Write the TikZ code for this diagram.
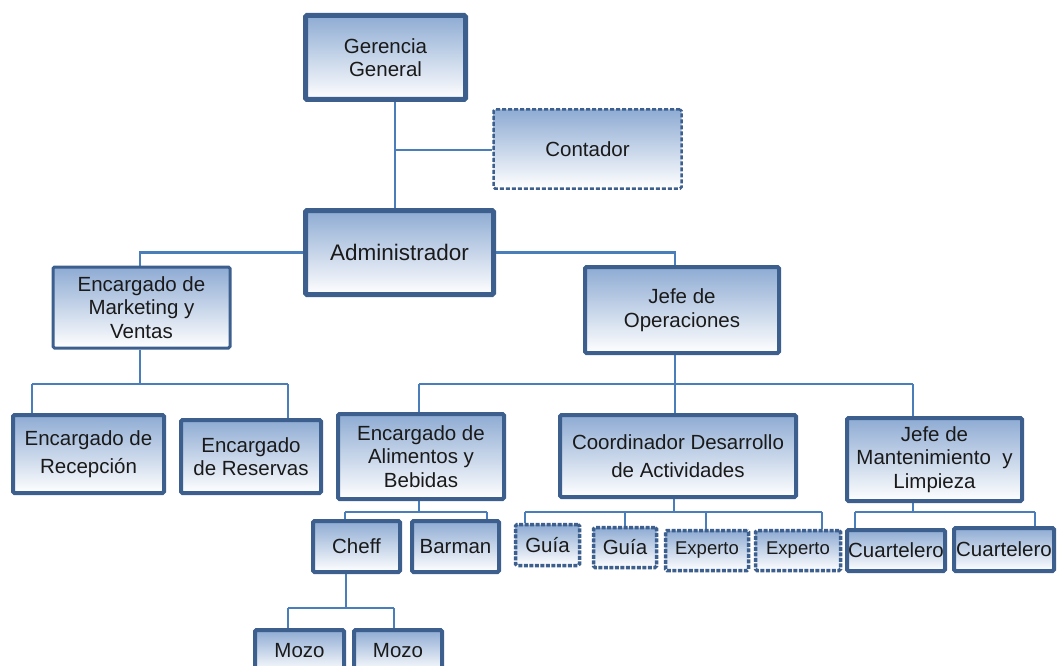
\documentclass[tikz,border=0pt]{standalone}
\usepackage{fontspec}
\setmainfont{Liberation Sans}
\usepackage{xcolor}
\usepackage{tikz}
\usetikzlibrary{shapes,arrows,backgrounds}

\definecolor{boxline}{HTML}{3C5F8E}
\definecolor{boxtop}{HTML}{8EABD3}
\definecolor{linkblue}{HTML}{4A7EBB}
\definecolor{txt}{HTML}{1A1A1A}

\begin{document}
\begin{tikzpicture}[x=1pt, y=-1pt,
  box/.style={draw=boxline, line width=4pt, rounded corners=1.5pt, top color=boxtop, bottom color=white,
    inner sep=0pt, align=center, text=txt, font=\fontsize{20.5}{23.5}\selectfont},
  bigbox/.style={box, line width=5pt},
  thinbox/.style={box, line width=3pt},
  dashbox/.style={box, line width=3.5pt, dash pattern=on 4pt off 1.5pt},
  link/.style={draw=linkblue, line width=2.2pt}]
\useasboundingbox (0,0) rectangle (1057,666);

% top levels
\node[bigbox, minimum width=160pt, minimum height=84pt] (ger) at (385.5,57.5) {Gerencia\\General};
\node[dashbox, line width=2.5pt, dash pattern=on 4pt off 2pt, minimum width=188pt, minimum height=79pt] (cont) at (587.5,149) {Contador};
\node[bigbox, minimum width=188pt, minimum height=84pt, font=\fontsize{22.5}{26}\selectfont] (adm) at (399.5,252.5) {Administrador};
\node[thinbox, minimum width=177pt, minimum height=81pt] (mkt) at (141.5,307.5) {Encargado de\\Marketing y\\Ventas};
\node[box, minimum width=194pt, minimum height=86pt] (jop) at (682,310) {Jefe de\\Operaciones};

% third level
\node[box, minimum width=151pt, minimum height=78pt] (rec) at (88.5,454) {Encargado de\\[4pt]Recepción};
\node[box, minimum width=140pt, minimum height=73pt] (res) at (251,456.5) {Encargado\\de Reservas};
\node[box, minimum width=166pt, minimum height=85pt] (ali) at (421,456.5) {Encargado de\\Alimentos y\\Bebidas};
\node[box, minimum width=236pt, minimum height=82pt] (coo) at (678,456) {Coordinador Desarrollo\\[5pt]de Actividades};
\node[box, minimum width=175pt, minimum height=83pt] (man) at (934.5,459.5) {Jefe de\\Mantenimiento~ y\\Limpieza};

% bottom levels
\node[box, minimum width=87pt, minimum height=51pt] (che) at (356.5,546.5) {Cheff};
\node[box, minimum width=87pt, minimum height=51pt] (bar) at (455.5,546.5) {Barman};
\node[box, minimum width=89pt, minimum height=42pt] (moz1) at (299.5,651) {Mozo};
\node[box, minimum width=88pt, minimum height=42pt] (moz2) at (398,651) {Mozo};
\node[dashbox, minimum width=64pt, minimum height=41pt] (g1) at (547.5,545) {Guía};
\node[dashbox, minimum width=63pt, minimum height=40pt] (g2) at (625,547.5) {Guía};
\node[dashbox, minimum width=83pt, minimum height=40pt, font=\fontsize{18.5}{22}\selectfont] (e1) at (707,550.5) {Experto};
\node[dashbox, minimum width=85pt, minimum height=40pt, font=\fontsize{18.5}{22}\selectfont] (e2) at (798,550.5) {Experto};
\node[box, minimum width=98pt, minimum height=41pt] (cu1) at (896,550.5) {Cuartelero};
\node[box, minimum width=100pt, minimum height=43pt] (cu2) at (1004,549.5) {Cuartelero};

% bus points
\coordinate (t0) at (395,150);
\coordinate (mb) at (140,384);
\coordinate (mbl) at (32,384);
\coordinate (mbr) at (288,384);
\coordinate (jb) at (675,384);
\coordinate (jbl) at (419,384);
\coordinate (jbr) at (913,384);
\coordinate (ab) at (419,512);
\coordinate (abl) at (345,512);
\coordinate (abr) at (487,512);
\coordinate (cb) at (346,608);
\coordinate (cbl) at (288,608);
\coordinate (cbr) at (394,608);
\coordinate (kb) at (674,512);
\coordinate (kbl) at (525,512);
\coordinate (kbr) at (822,512);
\coordinate (nb) at (913,512);
\coordinate (nbl) at (855,512);
\coordinate (nbr) at (1035,512);

\begin{scope}[on background layer]
\path[link] (t0 |- ger.south) -- (t0 |- adm.north)
  (t0) -- (t0 -| cont.west);
\path[link] (adm.west) -| (mb |- mkt.north);
\path[link] (adm.east) -| (jb |- jop.north);

\path[link] (mb |- mkt.south) -- (mb) (mbl) -- (mbr)
  (mbl) -- (mbl |- rec.north) (mbr) -- (mbr |- res.north);

\path[link] (jb |- jop.south) -- (jb) (jbl) -- (jbr)
  (jbl) -- (jbl |- ali.north) (jb) -- (jb |- coo.north) (jbr) -- (jbr |- man.north);

\path[link] (ab |- ali.south) -- (ab) (abl) -- (abr)
  (abl) -- (abl |- che.north) (abr) -- (abr |- bar.north);

\path[link] (cb |- che.south) -- (cb) (cbl) -- (cbr)
  (cbl) -- (cbl |- moz1.north) (cbr) -- (cbr |- moz2.north);

\path[link] (kb |- coo.south) -- (kb) (kbl) -- (kbr);
\foreach \x/\n in {525/g1, 625/g2, 706/e1, 822/e2} {
  \coordinate (d) at (\x,512);
  \path[link] (d) -- (d |- \n.north);
}

\path[link] (nb |- man.south) -- (nb) (nbl) -- (nbr)
  (nbl) -- (nbl |- cu1.north) (nbr) -- (nbr |- cu2.north);
\end{scope}
\end{tikzpicture}
\end{document}
